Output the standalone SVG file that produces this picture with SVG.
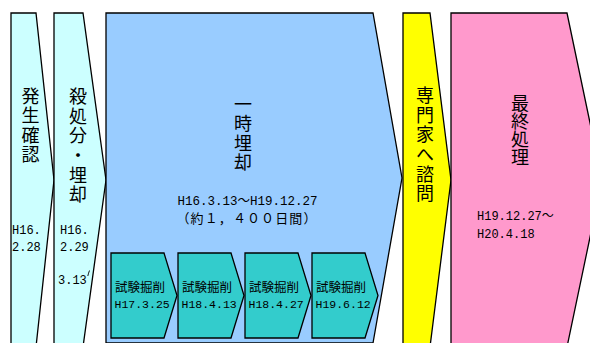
<svg xmlns="http://www.w3.org/2000/svg" width="590" height="343" viewBox="0 0 590 343">
<style>
.s{stroke:#000;stroke-width:1.3;stroke-linejoin:miter}
.c1{fill:#CCFFFF}.c2{fill:#99CCFF}.c3{fill:#FFFF00}.c4{fill:#FF99CC}.c5{fill:#33CCCC}
.v{font-family:"Noto Sans CJK JP","Noto Sans CJK SC",sans-serif;font-size:18px;fill:#000;writing-mode:vertical-rl;text-orientation:upright}
.m{font-family:"Liberation Mono","Noto Sans CJK JP",monospace;font-size:12px;fill:#000}
.j{font-family:"Noto Sans CJK JP",sans-serif;font-size:12.5px;fill:#000}
.sm{font-family:"Liberation Mono","Noto Sans CJK JP",monospace;font-size:11.5px;fill:#000}
</style>
<rect width="590" height="343" fill="#fff"/>
<g id="hassei">
<polygon class="s c1" points="11,13 36,13 54,180 36,347 11,347"/>
<text class="v" x="30.5" y="87" style="letter-spacing:1.4px">発生確認</text>
<text class="m"><tspan x="12" y="234">H16.</tspan><tspan x="12" y="250.5">2.28</tspan></text>
</g>
<g id="satsushobun">
<polygon class="s c1" points="54,13 83,13 106,180 83,347 54,347"/>
<text class="v" x="78" y="87" style="letter-spacing:1.7px">殺処分・埋却</text>
<text class="m"><tspan x="60" y="234">H16.</tspan><tspan x="60" y="250.5">2.29</tspan><tspan x="58" y="284">3.13</tspan></text>
<path d="M89.5,270.5 Q88.5,273 87.8,276" fill="none" stroke="#000" stroke-width="0.9"/>
</g>
<g id="ichiji">
<polygon class="s c2" points="106,13 373,13 402,178 373,343 106,343"/>
<text class="v" x="243" y="95" style="letter-spacing:1.5px">一時埋却</text>
<text class="m" style="font-size:12.5px" x="247.5" y="205" text-anchor="middle">H16.3.13～H19.12.27</text>
<text class="j" style="font-size:13px;letter-spacing:1.1px" x="247" y="223" text-anchor="middle">（約１，４００日間）</text>
</g>
<g id="kussaku1">
<polygon class="s c5" points="111,253 164,253 177,295.5 164,338 111,338"/>
<text class="j" x="115" y="292">試験掘削</text>
<text class="sm" x="114.5" y="308">H17.3.25</text>
</g>
<g id="kussaku2">
<polygon class="s c5" points="178,253 231,253 244,295.5 231,338 178,338"/>
<text class="j" x="182" y="292">試験掘削</text>
<text class="sm" x="181.5" y="308">H18.4.13</text>
</g>
<g id="kussaku3">
<polygon class="s c5" points="245,253 298,253 311,295.5 298,338 245,338"/>
<text class="j" x="249" y="292">試験掘削</text>
<text class="sm" x="248.5" y="308">H18.4.27</text>
</g>
<g id="kussaku4">
<polygon class="s c5" points="312,253 365,253 378,295.5 365,338 312,338"/>
<text class="j" x="316" y="292">試験掘削</text>
<text class="sm" x="315.5" y="308">H19.6.12</text>
</g>
<g id="senmonka">
<polygon class="s c3" points="403,13 430,13 451,180 430,347 403,347"/>
<text class="v" x="425" y="86" style="letter-spacing:1.7px">専門家へ諮問</text>
</g>
<g id="saishu">
<polygon class="s c4" points="451,13 567,13 602,180 567,347 451,347"/>
<text class="v" x="520" y="94" style="letter-spacing:0px">最終処理</text>
<text class="m"><tspan x="477" y="220">H19.12.27～</tspan><tspan x="477" y="238">H20.4.18</tspan></text>
</g>
<g id="connectors"></g>
</svg>
